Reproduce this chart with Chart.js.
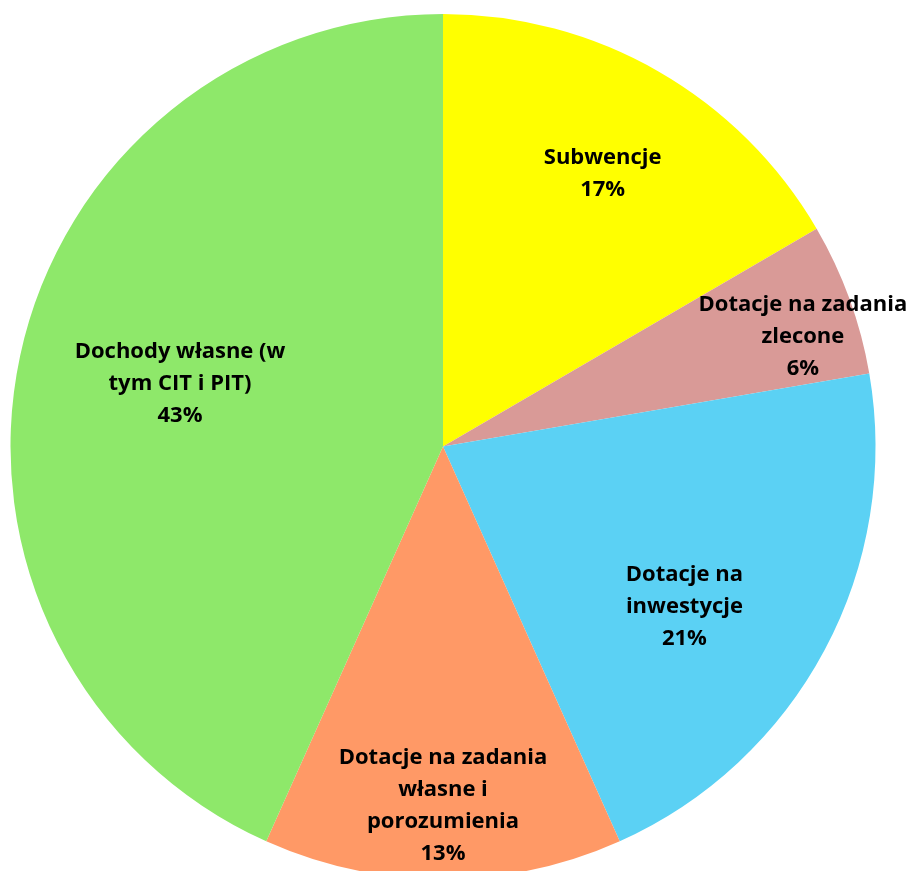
<!DOCTYPE html>
<html>
<head>
<meta charset="utf-8">
<script src="https://cdn.jsdelivr.net/npm/chart.js@4/dist/chart.umd.min.js"></script>
<style>
  html, body { margin: 0; padding: 0; background: #fff; overflow: hidden; }
  #wrap { width: 912px; height: 871px; }
</style>
</head>
<body>
<div id="wrap"><canvas id="pieChart" width="912" height="871"></canvas></div>
<script>
// data (percent of revenue)
const categories = [
  ['Subwencje'],
  ['Dotacje na zadania', 'zlecone'],
  ['Dotacje na', 'inwestycje'],
  ['Dotacje na zadania', 'własne i', 'porozumienia'],
  ['Dochody własne (w', 'tym CIT i PIT)']
];
const shares = [16.6, 5.7, 21.0, 13.4, 43.3];
const sliceColors = ['#ffff00', '#d99a97', '#5bd1f4', '#ff9966', '#8ee86a'];

// where each label sits inside its slice (fraction of radius, angle shift in deg)
const labelSpots = [
  { r: 0.73, turn: 0.5 },
  { r: 0.87, turn: 3 },
  { r: 0.67, turn: 5.5 },
  { r: 0.83, turn: 0 },
  { r: 0.625, turn: 1.3 }
];

const pieLabels = {
  id: 'pieLabels',
  afterDatasetsDraw(chart) {
    const ctx = chart.ctx;
    const total = shares.reduce((a, b) => a + b, 0);
    const meta = chart.getDatasetMeta(0);
    ctx.save();
    ctx.fillStyle = '#000';
    ctx.font = 'bold 22px "Open Sans", "Noto Sans", sans-serif';
    ctx.textAlign = 'center';
    ctx.textBaseline = 'middle';
    meta.data.forEach((arc, i) => {
      const p = arc.getProps(['x', 'y', 'startAngle', 'endAngle', 'outerRadius'], true);
      const mid = (p.startAngle + p.endAngle) / 2 + labelSpots[i].turn * Math.PI / 180;
      const rr = p.outerRadius * labelSpots[i].r;
      const cx = p.x + Math.cos(mid) * rr;
      const cy = p.y + Math.sin(mid) * rr;
      const lines = categories[i].concat([Math.round(shares[i] / total * 100) + '%']);
      const lh = 32;
      const top = cy - (lines.length - 1) * lh / 2;
      lines.forEach((t, k) => ctx.fillText(t, cx, top + k * lh));
    });
    ctx.restore();
  }
};

const ctx = document.getElementById('pieChart').getContext('2d');
new Chart(ctx, {
  type: 'pie',
  data: {
    labels: categories,
    datasets: [{
      data: shares,
      backgroundColor: sliceColors,
      borderWidth: 0
    }]
  },
  options: {
    responsive: false,
    animation: false,
    radius: 432.5,
    layout: { padding: { left: 0, right: 26, top: 22, bottom: 0 } },
    plugins: {
      legend: { display: false },
      tooltip: { enabled: false }
    }
  },
  plugins: [pieLabels]
});
</script>
</body>
</html>
